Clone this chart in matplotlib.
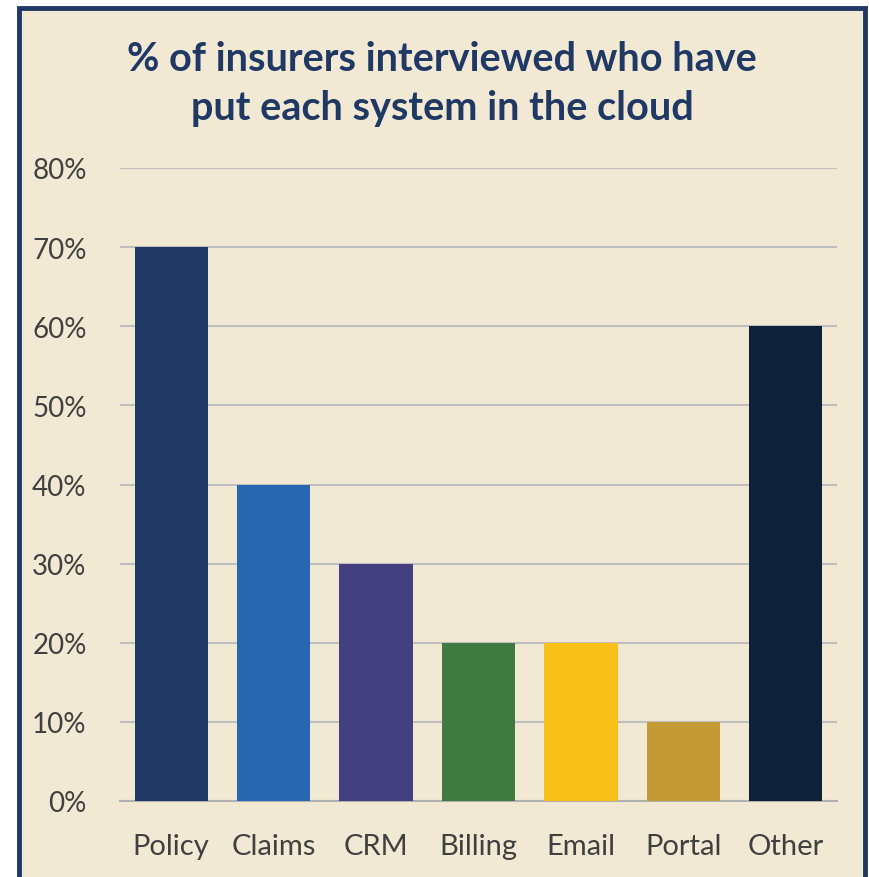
import matplotlib.pyplot as plt
from matplotlib.patches import Rectangle
from matplotlib.ticker import PercentFormatter

plt.rcParams['font.family'] = ['Lato', 'DejaVu Sans']

systems = ['Policy', 'Claims', 'CRM', 'Billing', 'Email', 'Portal', 'Other']
share = [0.70, 0.40, 0.30, 0.20, 0.20, 0.10, 0.60]
bar_colors = ['#1F3864', '#2966B0', '#443F80', '#3F7A41', '#F9C01A', '#C49A34', '#0D223A']

bg = '#F2E9D4'
navy = '#1F3864'

fig = plt.figure(figsize=(8.69, 8.78), dpi=100)
fig.patch.set_facecolor('white')

# cream panel with navy frame (bottom edge runs off the image)
fig.patches.append(Rectangle((19 / 869, -0.05), 846 / 869, 1.05 - 9 / 878,
                             transform=fig.transFigure, facecolor=bg,
                             edgecolor=navy, linewidth=3.5, zorder=-10))

ax = fig.add_axes([120 / 869, 76 / 878, 717 / 869, 633 / 878])
ax.set_facecolor('none')

ax.bar(range(len(systems)), share, width=0.715, color=bar_colors, zorder=3)

ax.set_xlim(-0.5, len(systems) - 0.5)
ax.set_ylim(0, 0.8)
ax.set_yticks([i / 10 for i in range(9)])
ax.yaxis.set_major_formatter(PercentFormatter(1.0, decimals=0))
ax.set_xticks(range(len(systems)))
ax.set_xticklabels(systems)

ax.grid(axis='y', color='#BFBFBF', linewidth=1.5, zorder=1)
for s in ['top', 'right', 'left']:
    ax.spines[s].set_visible(False)
ax.spines['bottom'].set_color('#B0B0B0')
ax.spines['bottom'].set_linewidth(1.5)
ax.tick_params(length=0, labelcolor='#404040')
ax.tick_params(axis='y', labelsize=20, pad=24)
ax.tick_params(axis='x', labelsize=21, pad=23)

fig.text(442 / 869, 1 - 84 / 878,
         '% of insurers interviewed who have\nput each system in the cloud',
         ha='center', va='center', fontsize=28.5, fontweight='bold',
         color=navy, linespacing=1.42)

fig.savefig('out.png', dpi=100, facecolor=fig.get_facecolor())
